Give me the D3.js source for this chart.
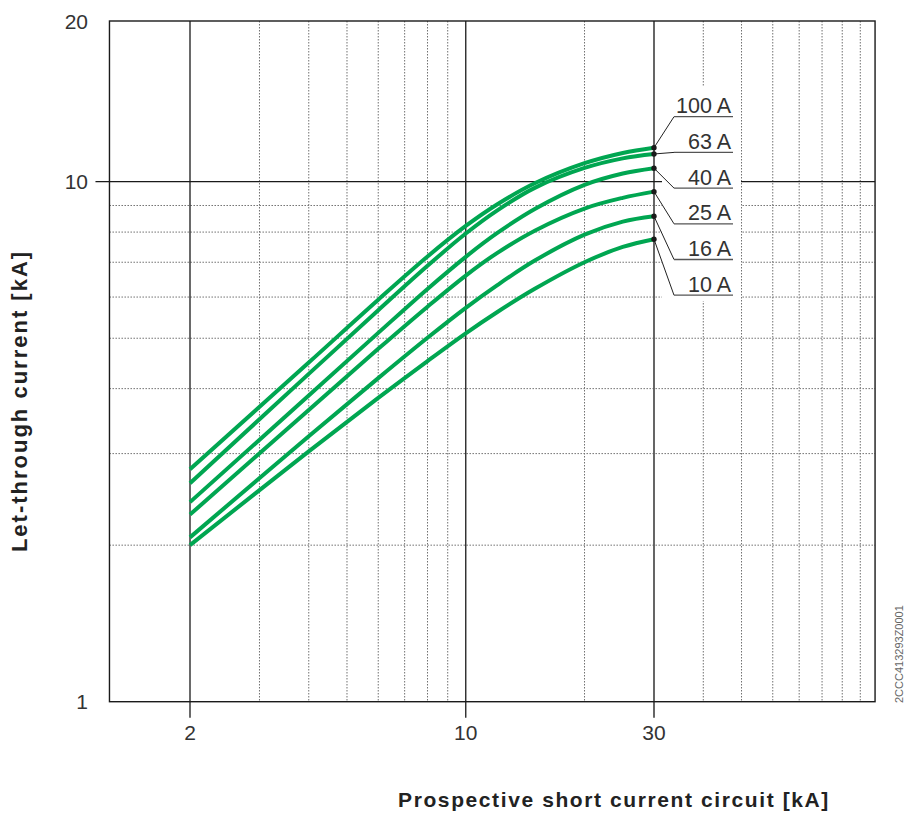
<!DOCTYPE html>
<html>
<head>
<meta charset="utf-8">
<script src="https://cdn.jsdelivr.net/npm/d3@7"></script>
<style>
  html, body { margin: 0; padding: 0; background: #fff; }
  svg { display: block; }
</style>
</head>
<body>
<svg id="chart" width="906" height="820"></svg>
<script>
// ---------- data ----------
const xSamples = [2, 4, 6, 8, 10, 12, 15, 20, 25, 30];      // prospective current [kA]
const i100 = [2.80, 4.49, 5.93, 7.18, 8.22, 9.04, 9.94, 10.83, 11.32, 11.58];
const i63  = [2.63, 4.27, 5.66, 6.89, 7.95, 8.80, 9.74, 10.61, 11.06, 11.27];
const i40  = [2.42, 3.88, 5.12, 6.22, 7.17, 7.96, 8.87, 9.86, 10.36, 10.60];
const i25  = [2.29, 3.64, 4.77, 5.75, 6.60, 7.29, 8.06, 8.88, 9.31, 9.57];
const i16  = [2.07, 3.24, 4.19, 5.01, 5.72, 6.32, 7.06, 7.91, 8.38, 8.58];
const i10  = [2.00, 3.03, 3.84, 4.52, 5.11, 5.61, 6.23, 7.00, 7.49, 7.75];
const seriesNames = ["100 A", "63 A", "40 A", "25 A", "16 A", "10 A"];
const seriesValues = [i100, i63, i40, i25, i16, i10];

const xTickValues = [2, 10, 30];
const xTickLabels = ["2", "10", "30"];
const xMinorGrid = [3, 4, 5, 6, 7, 8, 9, 20, 40, 50, 60, 70, 80, 90, 100];
const xDomain = [1.25, 109];
const yTickValues = [1, 10, 20];
const yTickLabels = ["1", "10", "20"];
const yMinorGrid = [2, 3, 4, 5, 6, 7, 8, 9];
const yMajorGrid = [10];
const xTitle = "Prospective short current circuit [kA]";
const yTitle = "Let-through current [kA]";
const docCode = "2CCC413293Z0001";

// ---------- scales ----------
const x = d3.scaleLog().domain([2, 30]).range([190, 654]);
const y = d3.scaleLog().domain([1, 10, 20]).range([701.7, 181.7, 21]);
const pLeft = x(xDomain[0]), pRight = x(xDomain[1]);
const pTop = y(20), pBottom = y(1);

const svg = d3.select("#chart");
const font = "'Liberation Sans', Arial, Helvetica, sans-serif";

// ---------- grid ----------
const grid = svg.append("g");
grid.selectAll("line.vminor").data(xMinorGrid).join("line")
  .attr("x1", d => x(d)).attr("x2", d => x(d))
  .attr("y1", pTop).attr("y2", pBottom)
  .attr("stroke", "#707070").attr("stroke-width", 1)
  .attr("stroke-dasharray", "1.5,1.5");
grid.selectAll("line.hminor").data(yMinorGrid).join("line")
  .attr("x1", pLeft).attr("x2", pRight)
  .attr("y1", d => y(d)).attr("y2", d => y(d))
  .attr("stroke", "#707070").attr("stroke-width", 1)
  .attr("stroke-dasharray", "1.5,1.5");

// major lines (with tick extensions)
grid.selectAll("line.vmajor").data(xTickValues).join("line")
  .attr("x1", d => x(d)).attr("x2", d => x(d))
  .attr("y1", pTop).attr("y2", pBottom + 16)
  .attr("stroke", d => d === 30 ? "#555" : "#1a1a1a")
  .attr("stroke-width", d => d === 30 ? 1.8 : 1.3);
grid.selectAll("line.hmajor").data(yMajorGrid).join("line")
  .attr("x1", pLeft - 14).attr("x2", pRight)
  .attr("y1", d => y(d)).attr("y2", d => y(d))
  .attr("stroke", "#1a1a1a").attr("stroke-width", 1.3);

// white box behind labels
svg.append("rect")
  .attr("x", x(30) + 8).attr("y", 87)
  .attr("width", 741 - x(30) - 8).attr("height", 214)
  .attr("fill", "#fff");

// frame
svg.append("rect")
  .attr("x", pLeft).attr("y", pTop)
  .attr("width", pRight - pLeft).attr("height", pBottom - pTop)
  .attr("fill", "none").attr("stroke", "#1a1a1a").attr("stroke-width", 1.4);

// ---------- curves ----------
const line = d3.line()
  .x((d, i) => x(xSamples[i]))
  .y(d => y(d))
  .curve(d3.curveCatmullRom.alpha(0.5));

svg.append("g").selectAll("path").data(seriesValues).join("path")
  .attr("d", d => line(d))
  .attr("fill", "none")
  .attr("stroke", "#00a651")
  .attr("stroke-width", 4);

// ---------- labels with leaders ----------
const labelX0 = 674, labelX1 = 733, labelY0 = 116.7, labelStep = 35.7;
const lab = svg.append("g");
seriesValues.forEach((vals, i) => {
  const last = vals[vals.length - 1];
  const px = x(xSamples[xSamples.length - 1]);
  const py = y(last);
  const ly = labelY0 + i * labelStep;
  lab.append("line")
    .attr("x1", px).attr("y1", py).attr("x2", labelX0).attr("y2", ly)
    .attr("stroke", "#222").attr("stroke-width", 1);
  lab.append("line")
    .attr("x1", labelX0).attr("y1", ly).attr("x2", labelX1).attr("y2", ly)
    .attr("stroke", "#555").attr("stroke-width", 1.3);
  lab.append("text")
    .attr("x", labelX1 - 2).attr("y", ly - 3.5)
    .attr("text-anchor", "end")
    .attr("font-family", font).attr("font-size", 21.5)
    .attr("fill", "#333")
    .text(seriesNames[i]);
  lab.append("circle")
    .attr("cx", px).attr("cy", py).attr("r", 2.7)
    .attr("fill", "#1a1a1a");
});

// ---------- tick labels ----------
svg.append("g").selectAll("text").data(xTickValues).join("text")
  .attr("x", d => x(d)).attr("y", pBottom + 38)
  .attr("text-anchor", "middle")
  .attr("font-family", font).attr("font-size", 21).attr("fill", "#333")
  .text((d, i) => xTickLabels[i]);

svg.append("g").selectAll("text").data(yTickValues).join("text")
  .attr("x", 88).attr("y", d => y(d) + 7.5)
  .attr("text-anchor", "end")
  .attr("font-family", font).attr("font-size", 21).attr("fill", "#333")
  .text((d, i) => yTickLabels[i]);

// ---------- axis titles ----------
svg.append("text")
  .attr("x", 614).attr("y", 806.5)
  .attr("text-anchor", "middle")
  .attr("font-family", font).attr("font-size", 21).attr("font-weight", "bold")
  .attr("letter-spacing", 1.6)
  .attr("fill", "#222")
  .text(xTitle);

svg.append("text")
  .attr("transform", "translate(27,401) rotate(-90)")
  .attr("text-anchor", "middle")
  .attr("font-family", font).attr("font-size", 22).attr("font-weight", "bold")
  .attr("letter-spacing", 2.0)
  .attr("fill", "#222")
  .text(yTitle);

// document code
svg.append("text")
  .attr("transform", "translate(903,703) rotate(-90)")
  .attr("text-anchor", "start")
  .attr("font-family", font).attr("font-size", 11).attr("fill", "#666")
  .text(docCode);
</script>
</body>
</html>
